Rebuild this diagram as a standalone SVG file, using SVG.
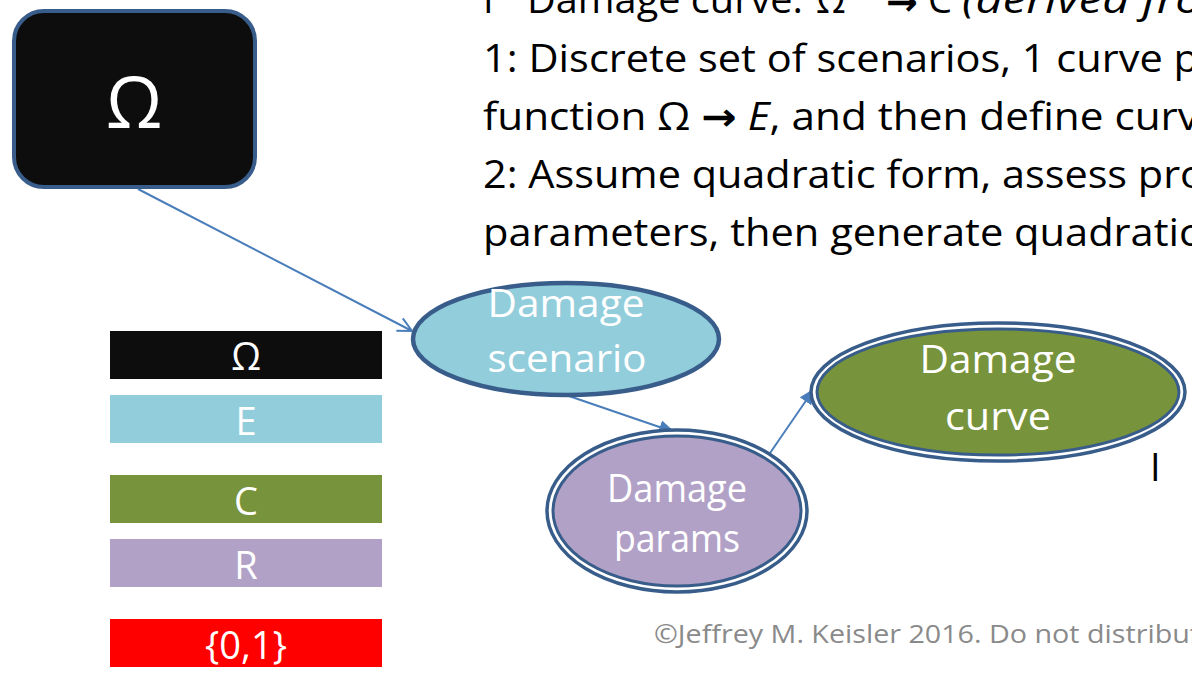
<svg xmlns="http://www.w3.org/2000/svg" width="1192" height="677" viewBox="0 0 1192 677">
  <style>
    text { font-family: "Open Sans", "Noto Sans", "DejaVu Sans", sans-serif; }
    .head { font-size: 38px; fill: #000000; }
    .it { font-style: italic; }
    .node-label { font-size: 38px; fill: #ffffff; text-anchor: middle; }
    .legend-label { font-size: 38px; fill: #ffffff; text-anchor: middle; }
    .edge { stroke: #4a7ebb; stroke-width: 2; fill: none; }
    .outline { stroke: #385d8a; }
    .copy { font-size: 26px; fill: #8a8a8a; }
  </style>
  <defs>
    <marker id="openArrow" viewBox="0 0 16 16" refX="15" refY="8" markerWidth="16" markerHeight="16" markerUnits="userSpaceOnUse" orient="auto">
      <path d="M1,1 L15,8 L1,15" fill="none" stroke="#4a7ebb" stroke-width="2"/>
    </marker>
    <marker id="solidArrow" viewBox="0 0 16 14" refX="15" refY="7" markerWidth="16" markerHeight="14" markerUnits="userSpaceOnUse" orient="auto">
      <path d="M0,0 L16,7 L0,14 Z" fill="#4a7ebb"/>
    </marker>
  </defs>

  <rect width="1192" height="677" fill="#ffffff"/>

  <!-- Heading text block -->
  <g id="heading">
    <text class="head" x="483" y="13">I</text>
    <text class="head" x="527" y="13" textLength="276" lengthAdjust="spacingAndGlyphs">Damage curve:</text>
    <text class="head" x="816" y="13">Ω</text>
    <text class="head" x="886" y="15" font-size="46" font-weight="bold">→</text>
    <text class="head" x="928" y="13">C</text>
    <text class="head it" x="962" y="13" textLength="240" lengthAdjust="spacingAndGlyphs">(derived fro</text>
    <text class="head" x="483" y="72" textLength="716" lengthAdjust="spacingAndGlyphs">1: Discrete set of scenarios, 1 curve p</text>
    <text class="head" x="483" y="130" textLength="716" lengthAdjust="spacingAndGlyphs">function Ω <tspan font-weight="bold">→</tspan> <tspan class="it">E</tspan>, and then define curv</text>
    <text class="head" x="483" y="188" textLength="722" lengthAdjust="spacingAndGlyphs">2: Assume quadratic form, assess pro</text>
    <text class="head" x="483" y="246" textLength="716" lengthAdjust="spacingAndGlyphs">parameters, then generate quadratic</text>
  </g>

  <!-- Connectors -->
  <g id="connectors">
    <line class="edge" x1="138" y1="189" x2="412" y2="331" marker-end="url(#openArrow)"/>
    <line class="edge" x1="566" y1="395" x2="674" y2="432" marker-end="url(#solidArrow)"/>
    <line class="edge" x1="768" y1="456" x2="814" y2="389" marker-end="url(#solidArrow)"/>
  </g>

  <!-- Omega source node -->
  <g id="node-omega">
    <rect x="14" y="11" width="241" height="176" rx="30" ry="30" fill="#0d0d0d" class="outline" stroke-width="4"/>
    <text x="134" y="128" font-size="72" fill="#ffffff" text-anchor="middle">Ω</text>
  </g>

  <!-- Damage scenario node -->
  <g id="node-damage-scenario">
    <ellipse cx="566" cy="339" rx="153" ry="56" fill="#92cddc" class="outline" stroke-width="4.5"/>
    <text class="node-label" x="566" y="317" textLength="157" lengthAdjust="spacingAndGlyphs">Damage</text>
    <text class="node-label" x="567" y="372" textLength="159" lengthAdjust="spacingAndGlyphs">scenario</text>
  </g>

  <!-- Damage params node (double outline) -->
  <g id="node-damage-params">
    <ellipse cx="677" cy="511" rx="130" ry="81" fill="#ffffff" class="outline" stroke-width="3.5"/>
    <ellipse cx="677" cy="511" rx="124" ry="75" fill="#b2a1c7" class="outline" stroke-width="3"/>
    <text class="node-label" x="677" y="502" font-size="34" textLength="140" lengthAdjust="spacingAndGlyphs">Damage</text>
    <text class="node-label" x="677" y="552" font-size="34" textLength="126" lengthAdjust="spacingAndGlyphs">params</text>
  </g>

  <!-- Damage curve node (double outline) -->
  <g id="node-damage-curve">
    <ellipse cx="998" cy="392" rx="187" ry="69" fill="#ffffff" class="outline" stroke-width="3.5"/>
    <ellipse cx="998" cy="392" rx="181" ry="63" fill="#77933c" class="outline" stroke-width="3"/>
    <text class="node-label" x="998" y="373" textLength="157" lengthAdjust="spacingAndGlyphs">Damage</text>
    <text class="node-label" x="998" y="430" textLength="106" lengthAdjust="spacingAndGlyphs">curve</text>
  </g>

  <!-- Stray cursor-like glyph -->
  <text x="1150" y="481" font-size="38" fill="#000000">I</text>

  <!-- Colour legend -->
  <g id="legend">
    <g id="legend-omega">
      <rect x="110" y="331" width="272" height="48" fill="#0d0d0d"/>
      <text class="legend-label" x="246" y="370">Ω</text>
    </g>
    <g id="legend-e">
      <rect x="110" y="395" width="272" height="48" fill="#92cddc"/>
      <text class="legend-label" x="246" y="435">E</text>
    </g>
    <g id="legend-c">
      <rect x="110" y="475" width="272" height="48" fill="#77933c"/>
      <text class="legend-label" x="246" y="515">C</text>
    </g>
    <g id="legend-r">
      <rect x="110" y="539" width="272" height="48" fill="#b2a1c7"/>
      <text class="legend-label" x="246" y="579">R</text>
    </g>
    <g id="legend-binary">
      <rect x="110" y="619" width="272" height="48" fill="#ff0000"/>
      <text class="legend-label" x="246" y="659">{0,1}</text>
    </g>
  </g>

  <!-- Footer notice -->
  <text class="copy" x="654" y="643" textLength="546" lengthAdjust="spacingAndGlyphs">©Jeffrey M. Keisler 2016. Do not distribut</text>
</svg>
